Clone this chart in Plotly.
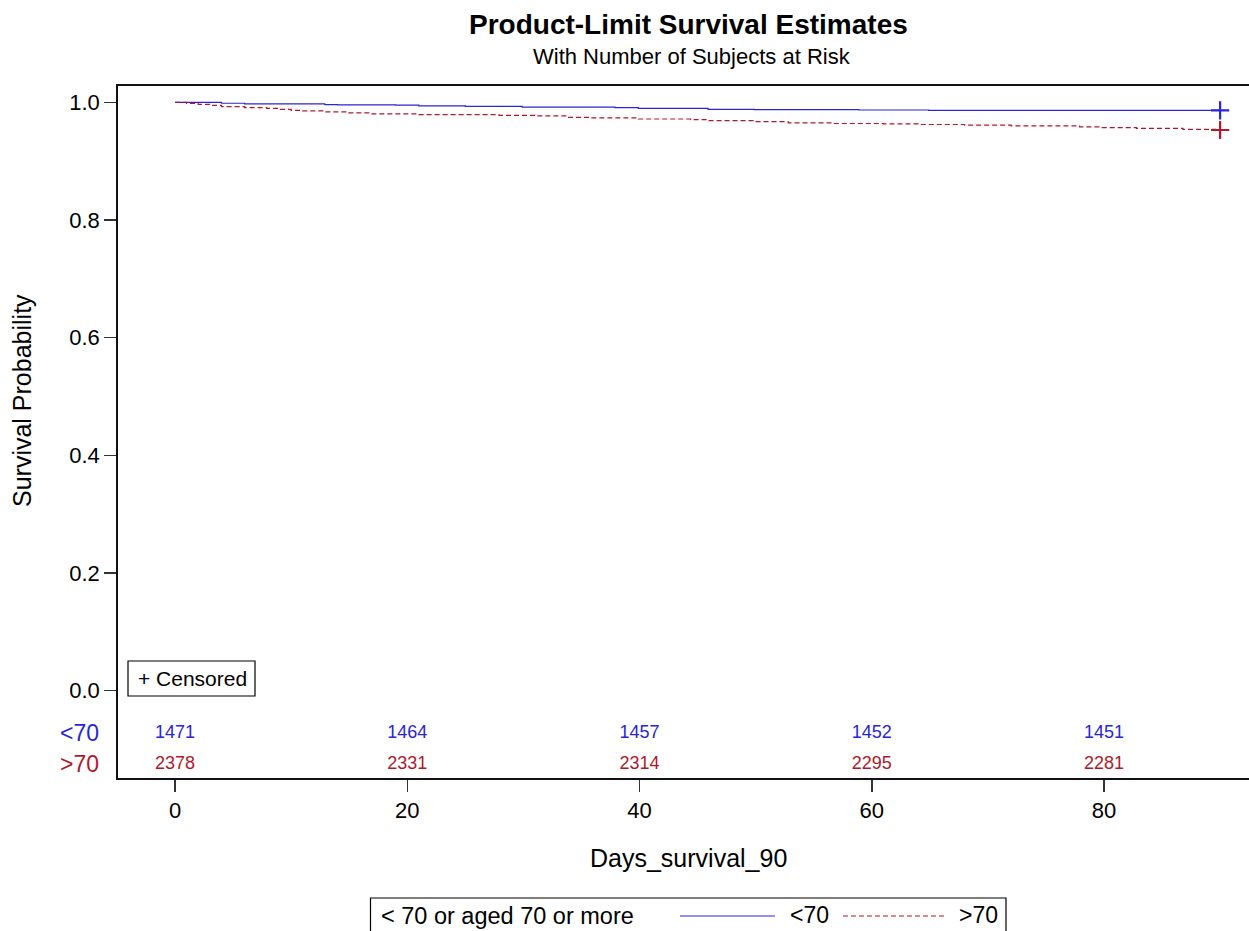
import plotly.graph_objects as go

# ---------------- data ----------------
blue_name = "<70"
red_name = ">70"

blue_time = [0, 4.0, 6.0, 12.9, 14.0, 19.0, 21.0, 25.0, 29.9, 37.9, 39.9, 45.9, 49.9, 58.9, 64.9, 90]
blue_surv = [1.0, 0.9984, 0.9973, 0.9962, 0.9957, 0.9951, 0.9940, 0.9930, 0.9919, 0.9908, 0.9897,
             0.9880, 0.9874, 0.9869, 0.9864, 0.9864]

red_time = [0, 1.0, 2.0, 3.0, 4.0, 6.0, 7.9, 8.9, 10.0, 11.0, 12.9, 14.9, 16.9, 21.0, 27.9, 31.0,
            33.9, 35.8, 39.9, 44.4, 45.9, 49.9, 52.8, 56.7, 61.0, 64.0, 68.0, 72.0, 77.9, 79.7,
            82.8, 86.8, 89.6, 90]
red_surv = [1.0, 0.9983, 0.9966, 0.9949, 0.9926, 0.9909, 0.9898, 0.9881, 0.9864, 0.9853, 0.9836,
            0.9819, 0.9802, 0.9790, 0.9779, 0.9768, 0.9745, 0.9734, 0.9716, 0.9705, 0.9687, 0.9670,
            0.9652, 0.9640, 0.9635, 0.9623, 0.9611, 0.9599, 0.9582, 0.9570, 0.9558, 0.9541, 0.9529,
            0.9529]

censor_time_blue = [90]
censor_surv_blue = [0.9864]
censor_time_red = [90]
censor_surv_red = [0.9529]

risk_times = [0, 20, 40, 60, 80]
risk_blue = [1471, 1464, 1457, 1452, 1451]
risk_red = [2378, 2331, 2314, 2295, 2281]

x_ticks = [0, 20, 40, 60, 80]
y_ticks = [0.0, 0.2, 0.4, 0.6, 0.8, 1.0]
y_ticklabels = ["0.0", "0.2", "0.4", "0.6", "0.8", "1.0"]

title_text = "Product-Limit Survival Estimates"
subtitle_text = "With Number of Subjects at Risk"
x_title = "Days_survival_90"
y_title = "Survival Probability"
legend_title = "< 70 or aged 70 or more"

# ---------------- style ----------------
BLUE = "#2A25D9"
RED = "#B2182B"
FONT = "Liberation Sans, Arial, sans-serif"

W, H = 1249, 931
L, R, T, B = 118, 0, 86, 153
PW = W - L - R
PH = H - T - B


def px(xp):
    return (xp - L) / PW


def py(yp):
    return (H - B - yp) / PH


fig = go.Figure()

fig.add_trace(go.Scatter(x=blue_time, y=blue_surv, mode="lines", line_shape="hv",
                         line=dict(color=BLUE, width=1.2), name=blue_name, showlegend=False))
fig.add_trace(go.Scatter(x=red_time, y=red_surv, mode="lines", line_shape="hv",
                         line=dict(color=RED, width=1.2, dash="5px,3px"), name=red_name,
                         showlegend=False))
fig.add_trace(go.Scatter(x=censor_time_blue, y=censor_surv_blue, mode="markers",
                         marker=dict(symbol="cross-thin", size=13, line=dict(color=BLUE, width=2.2)),
                         showlegend=False))
fig.add_trace(go.Scatter(x=censor_time_red, y=censor_surv_red, mode="markers",
                         marker=dict(symbol="cross-thin", size=13, line=dict(color=RED, width=2.2)),
                         showlegend=False))

# number at risk rows
fig.add_trace(go.Scatter(x=risk_times, y=[-0.0719] * len(risk_times), mode="text",
                         text=[str(v) for v in risk_blue],
                         textfont=dict(family=FONT, size=18, color=BLUE), showlegend=False))
fig.add_trace(go.Scatter(x=risk_times, y=[-0.1246] * len(risk_times), mode="text",
                         text=[str(v) for v in risk_red],
                         textfont=dict(family=FONT, size=18, color=RED), showlegend=False))

x0 = (L - 175) / 11.6125
x1 = (W - R - 175) / 11.6125
y1 = 1 + (102.3 - T) / 588.4
y0 = -((H - B) - 690.7) / 588.4

fig.update_layout(
    width=W, height=H,
    margin=dict(l=L, r=R, t=T, b=B, pad=0),
    paper_bgcolor="white", plot_bgcolor="white",
    font=dict(family=FONT, color="black"),
    hovermode=False,
    xaxis=dict(range=[x0, x1], tickvals=x_ticks, showgrid=False, zeroline=False,
               showline=True, linecolor="#111", linewidth=1.8, mirror=True,
               ticks="outside", ticklen=12, tickwidth=1.5, tickcolor="#333",
               tickfont=dict(family=FONT, size=22, color="black")),
    yaxis=dict(range=[y0, y1], tickvals=y_ticks, ticktext=y_ticklabels, showgrid=False,
               zeroline=False, showline=True, linecolor="#111", linewidth=1.8,
               ticks="outside", ticklen=12, tickwidth=1.5, tickcolor="#333",
               tickfont=dict(family=FONT, size=22, color="black")),
)

ann = []
ann.append(dict(text="<b>" + title_text + "</b>", x=px(688), y=py(25), xref="paper", yref="paper",
                showarrow=False, xanchor="center", yanchor="middle",
                font=dict(family=FONT, size=28, color="black")))
ann.append(dict(text=subtitle_text, x=px(692), y=py(57), xref="paper", yref="paper",
                showarrow=False, xanchor="center", yanchor="middle",
                font=dict(family=FONT, size=22, color="black")))
ann.append(dict(text=y_title, x=px(22), y=py(401), xref="paper", yref="paper", textangle=-90,
                showarrow=False, xanchor="center", yanchor="middle",
                font=dict(family=FONT, size=25, color="black")))
ann.append(dict(text=x_title, x=px(688), y=py(858), xref="paper", yref="paper",
                showarrow=False, xanchor="center", yanchor="middle",
                font=dict(family=FONT, size=25, color="black")))
ann.append(dict(text=blue_name, x=px(101), y=-0.0719, xref="paper", yref="y",
                showarrow=False, xanchor="right", yanchor="middle",
                font=dict(family=FONT, size=23, color=BLUE)))
ann.append(dict(text=red_name, x=px(101), y=-0.1246, xref="paper", yref="y",
                showarrow=False, xanchor="right", yanchor="middle",
                font=dict(family=FONT, size=23, color=RED)))
ann.append(dict(text="+ Censored", x=px(136), y=py(678.5), xref="paper", yref="paper",
                showarrow=False, xanchor="left", yanchor="middle",
                font=dict(family=FONT, size=21, color="black")))
ann.append(dict(text=legend_title, x=px(379), y=py(916), xref="paper", yref="paper",
                showarrow=False, xanchor="left", yanchor="middle",
                font=dict(family=FONT, size=23.5, color="black")))
ann.append(dict(text=blue_name, x=px(788), y=py(915), xref="paper", yref="paper",
                showarrow=False, xanchor="left", yanchor="middle",
                font=dict(family=FONT, size=23, color="black")))
ann.append(dict(text=red_name, x=px(957), y=py(915), xref="paper", yref="paper",
                showarrow=False, xanchor="left", yanchor="middle",
                font=dict(family=FONT, size=23, color="black")))
fig.update_layout(annotations=ann)

shapes = []
# censored box
shapes.append(dict(type="rect", xref="paper", yref="paper", x0=px(128), x1=px(255),
                   y0=py(696), y1=py(661), line=dict(color="black", width=1.2), fillcolor="white",
                   layer="below"))
# bottom legend box
shapes.append(dict(type="rect", xref="paper", yref="paper", x0=px(370.5), x1=px(1006),
                   y0=py(945), y1=py(898), line=dict(color="black", width=1.2)))
shapes.append(dict(type="line", xref="paper", yref="paper", x0=px(680), x1=px(775),
                   y0=py(916), y1=py(916), line=dict(color=BLUE, width=1.2)))
shapes.append(dict(type="line", xref="paper", yref="paper", x0=px(843), x1=px(944),
                   y0=py(916), y1=py(916), line=dict(color=RED, width=1.2, dash="5px,3px")))
fig.update_layout(shapes=shapes)

fig.write_html(
    "out.html",
    config={"displayModeBar": False, "staticPlot": True},
    post_script="document.body.style.margin='0';document.body.style.padding='0';"
                "document.body.style.overflow='hidden';",
)
